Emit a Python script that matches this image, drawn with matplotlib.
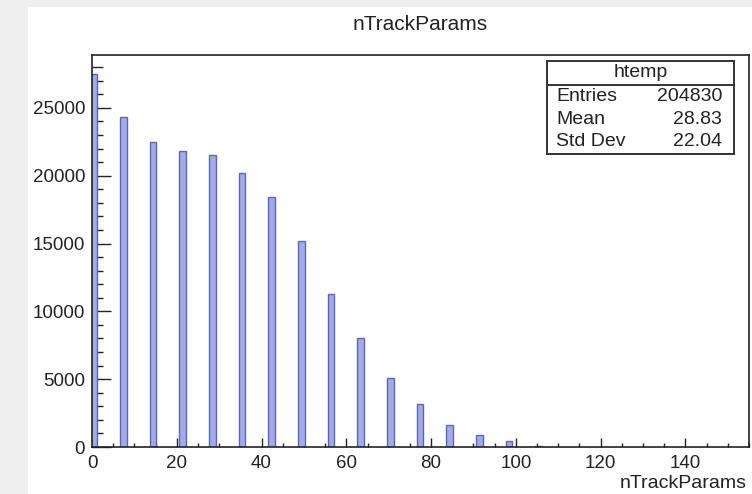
import numpy as np
import matplotlib.pyplot as plt
from matplotlib.patches import Rectangle
from matplotlib.ticker import MultipleLocator

plt.rcParams['font.family'] = ['Liberation Sans', 'DejaVu Sans']

# Conteúdo do histograma
n_tracks = [0, 7, 14, 21, 28, 35, 42, 49, 56, 63, 70, 77, 84, 91, 98, 105]
counts = [27500, 24300, 22500, 21800, 21500, 20200, 18400, 15200,
          11300, 8000, 5100, 3200, 1600, 900, 440, 100]

stat_names = ['Entries', 'Mean', 'Std Dev']
stat_values = ['204830', '28.83', '22.04']
hist_name = 'htemp'
var_name = 'nTrackParams'

W, H = 752, 494
fig = plt.figure(figsize=(W / 100, H / 100), dpi=100, facecolor='#efefef')

# canvas branco
fig.add_artist(Rectangle((28 / W, 0), 1 - 28 / W, 1 - 7 / H, transform=fig.transFigure,
                         facecolor='white', edgecolor='none', zorder=0))

ax = fig.add_axes([92 / W, 1 - 447 / H, (749 - 92) / W, (447 - 55) / H])
ax.set_facecolor('white')

left_edges = np.array(n_tracks) - 0.4
ax.bar(left_edges, counts, width=1.6, align='edge', color='#a4aae2',
       edgecolor='#5a63c9', linewidth=1.0, zorder=2)

ax.set_xlim(0, 155)
ax.set_ylim(0, 28900)

ax.xaxis.set_major_locator(MultipleLocator(20))
ax.xaxis.set_minor_locator(MultipleLocator(5))
ax.yaxis.set_major_locator(MultipleLocator(5000))
ax.yaxis.set_minor_locator(MultipleLocator(1000))

ax.tick_params(axis='x', which='major', direction='in', length=6.5, width=1.0,
               labelsize=13.5, pad=6, colors='#222222', top=False)
ax.tick_params(axis='x', which='minor', direction='in', length=3, width=1.0,
               top=False, colors='#222222')
ax.tick_params(axis='y', which='major', direction='in', length=14, width=1.0,
               labelsize=13.5, pad=5, colors='#222222', right=False)
ax.tick_params(axis='y', which='minor', direction='in', length=8, width=1.0,
               right=False, colors='#222222')

for s in ax.spines.values():
    s.set_linewidth(1.2)
    s.set_color('#222222')

# título e rótulo do eixo
fig.text(420 / W, 1 - 24 / H, var_name, ha='center', va='center', fontsize=15, color='#222222')
fig.text(747 / W, 1 - 483 / H, var_name, ha='right', va='center', fontsize=14, color='#222222')

# caixa de estatísticas
bx0, bx1 = 547 / W, 734 / W
by0, by1 = 1 - 154 / H, 1 - 61 / H
fig.add_artist(Rectangle((bx0, by0), bx1 - bx0, by1 - by0, transform=fig.transFigure,
                         facecolor='white', edgecolor='#333333', linewidth=1.4, zorder=5))
fig.add_artist(plt.Line2D([bx0, bx1], [1 - 85 / H] * 2, transform=fig.transFigure,
                          color='#333333', linewidth=1.4, zorder=6))
fig.text((bx0 + bx1) / 2, 1 - 72 / H, hist_name, ha='center', va='center',
         fontsize=14, color='#222222', zorder=7)
for i, (name, val) in enumerate(zip(stat_names, stat_values)):
    yy = 1 - (96 + 23 * i) / H
    fig.text(556 / W, yy, name, ha='left', va='center', fontsize=14, color='#222222', zorder=7)
    fig.text(722 / W, yy, val, ha='right', va='center', fontsize=14, color='#222222', zorder=7)

fig.savefig('out.png', dpi=100, facecolor=fig.get_facecolor())
